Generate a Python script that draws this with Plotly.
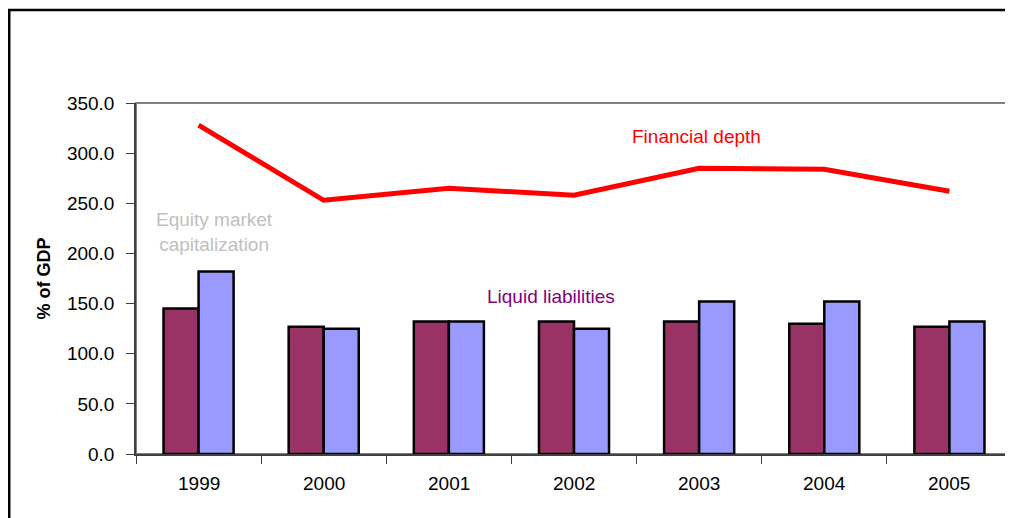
import plotly.graph_objects as go

years = ["1999", "2000", "2001", "2002", "2003", "2004", "2005"]
liquid_liabilities = [145, 127, 132, 132, 132, 130, 127]
equity_market_cap = [182, 125, 132, 125, 152, 152, 132]
financial_depth = [328, 253, 265, 258, 285, 284, 262]
y_ticks = [0, 50, 100, 150, 200, 250, 300, 350]

FONT = "Liberation Sans, Arial, sans-serif"

fig = go.Figure()
fig.add_trace(go.Bar(
    x=years, y=liquid_liabilities, name="Liquid liabilities",
    marker=dict(color="#993366", line=dict(color="#000000", width=2.5)),
))
fig.add_trace(go.Bar(
    x=years, y=equity_market_cap, name="Equity market capitalization",
    marker=dict(color="#9999FF", line=dict(color="#000000", width=2.5)),
))
fig.add_trace(go.Scatter(
    x=years, y=financial_depth, name="Financial depth", mode="lines",
    line=dict(color="#FF0000", width=5),
))

fig.update_layout(
    width=1005, height=510,
    margin=dict(l=128, r=1, t=95, b=64),
    paper_bgcolor="white", plot_bgcolor="white",
    showlegend=False,
    barmode="group", bargap=0.44, bargroupgap=0,
    font=dict(family=FONT, size=19, color="black"),
)
fig.update_xaxes(
    type="category", range=[-0.5, 6.5],
    showline=True, linecolor="#404040", linewidth=1.5,
    ticks="outside", ticklen=8, tickcolor="#404040",
    tickmode="array", tickvals=[i + 0.5 for i in range(-1, 7)], ticktext=[""] * 8,
    showgrid=False, zeroline=False,
)
fig.update_yaxes(
    range=[0, 350], tickvals=y_ticks, tickformat=".1f",
    showline=True, linecolor="#404040", linewidth=1.5,
    ticks="outside", ticklen=8, tickcolor="#404040", ticklabelstandoff=8,
    showgrid=False, zeroline=False,
    title=dict(text="<b>% of GDP</b>", font=dict(size=18), standoff=12),
)

# category labels (centered under each group)
for i, yr in enumerate(years):
    fig.add_annotation(x=i, y=0, xref="x", yref="y", text=yr, showarrow=False,
                       yanchor="top", yshift=-17, font=dict(size=19))

# series labels
fig.add_annotation(x=3.98, y=317, xref="x", yref="y", text="Financial depth",
                   showarrow=False, font=dict(size=19, color="#FF0000"))
fig.add_annotation(x=2.82, y=157, xref="x", yref="y", text="Liquid liabilities",
                   showarrow=False, font=dict(size=19, color="#800080"))
fig.add_annotation(x=0.13, y=221, xref="x", yref="y",
                   text="Equity market<br>capitalization",
                   showarrow=False, font=dict(size=19, color="#C0C0C0"))

# plot area border (top/right gray)
fig.add_shape(type="rect", xref="paper", yref="paper", x0=0, y0=0, x1=1, y1=1,
              line=dict(color="#808080", width=2), layer="below")
# outer chart border
fig.add_shape(type="rect", xref="paper", yref="paper",
              x0=-0.1447, y0=-0.3, x1=1.05, y1=1.2650,
              line=dict(color="#000000", width=2.5))

fig.write_html("out.html")
